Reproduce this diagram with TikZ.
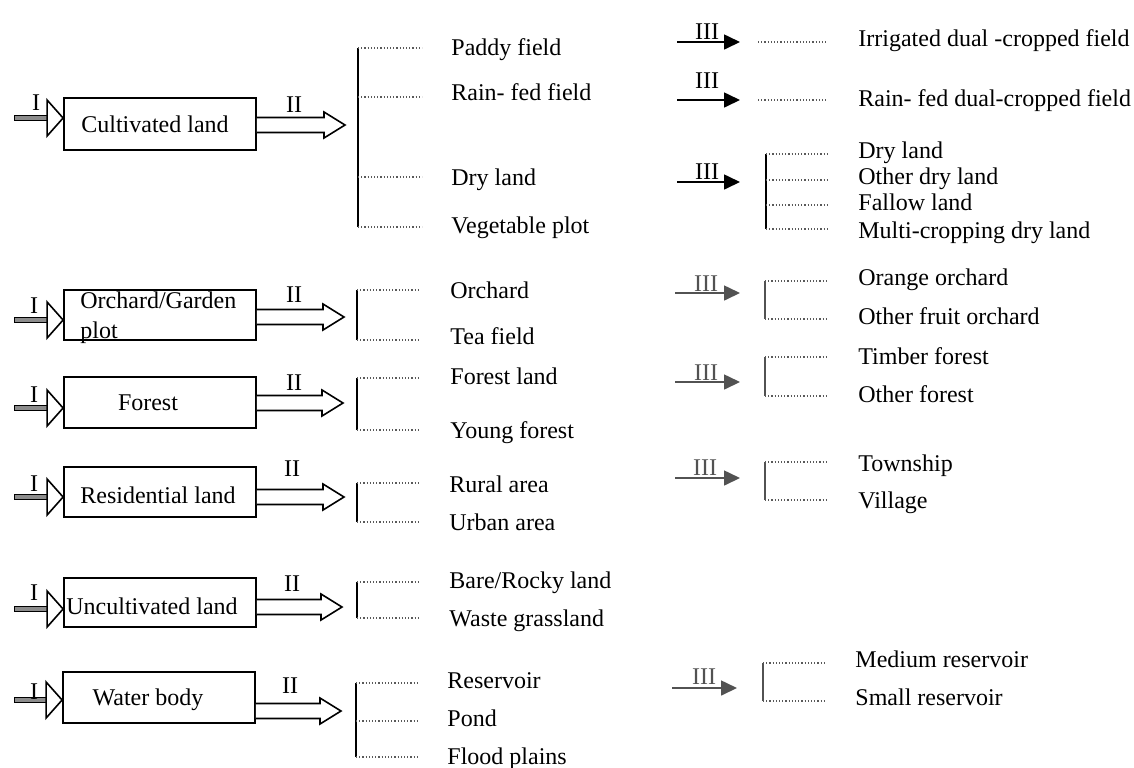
\documentclass[tikz,border=0pt]{standalone}
\usepackage{fontspec}
\setmainfont{Liberation Serif}
\usetikzlibrary{arrows.meta,calc}
\newcommand{\InArr}[2]{%
  \coordinate (#1-t) at (14,#2);
  \coordinate (#1-a) at (#1.west |- #1-t);
  \draw[shaftst] ($(#1-t)+(0,-2.5)$) rectangle ($(#1-a)+(-16,2.5)$);
  \draw[hollow] ($(#1-a)+(-16,-18)$) -- (#1-a) -- ($(#1-a)+(-16,18)$) -- cycle;
}
\newcommand{\OutArr}[3]{%
  \coordinate (#1-oy) at (0,#2);
  \coordinate (#1-o) at (#1.east |- #1-oy);
  \coordinate (#1-p) at (#3,#2);
  \draw[hollow] ($(#1-o)+(0,-7.5)$) -- ($(#1-p)+(-21,-7.5)$) -- ($(#1-p)+(-21,-13)$) -- (#1-p)
     -- ($(#1-p)+(-21,13)$) -- ($(#1-p)+(-21,7.5)$) -- ($(#1-o)+(0,7.5)$);
}
\begin{document}
\begin{tikzpicture}[x=0.5pt,y=-0.5pt,
  font=\fontsize{12}{14}\selectfont,
  box/.style={draw,line width=0.9pt,minimum width=96pt,inner sep=0pt},
  lbl/.style={anchor=base west,inner sep=0pt},
  ctr/.style={anchor=base,inner sep=0pt},
  hollow/.style={draw,line width=0.8pt,fill=white,line join=miter},
  shaftst/.style={draw,line width=0.45pt,fill=black!45},
  bar/.style={line width=0.75pt},
  tick/.style={densely dotted,line width=0.6pt,black!65},
  rarr/.style={line width=0.8pt,-{Triangle[length=8pt,width=7.5pt]}},
  grey/.style={black!68},
]
\useasboundingbox (0,0) rectangle (1134,767);

% ---------------- left column: boxes ----------------
\node[box,minimum height=26pt]   (cult)  at (160,124) {};
\node[box,minimum height=25pt]   (orch)  at (160,315) {};
\node[box,minimum height=25.5pt] (fore)  at (160,402.5) {};
\node[box,minimum height=25pt]   (resi)  at (160,492) {};
\node[box,minimum height=24.5pt] (uncu)  at (160,602.5) {};
\node[box,minimum height=25.5pt] (wate)  at (159,697.5) {};

\node[ctr] (cultT) at (155,132) {Cultivated land};
\node[lbl] (orchT1) at (80,308) {Orchard/Garden};
\node[lbl] (orchT2) at (80,338) {plot};
\node[ctr] (foreT) at (148,410) {Forest};
\node[ctr] (resiT) at (158,503) {Residential land};
\node[ctr] (uncuT) at (152,614) {Uncultivated land};
\node[ctr] (wateT) at (148,705) {Water body};

% input arrows (I)
\InArr{cult}{118}
\InArr{orch}{320}
\InArr{fore}{408}
\InArr{resi}{497}
\InArr{uncu}{609}
\InArr{wate}{700}
\node[ctr] (i1) at (36,110) {I};
\node[ctr] (i2) at (34,313) {I};
\node[ctr] (i3) at (34,402) {I};
\node[ctr] (i4) at (34,491) {I};
\node[ctr] (i5) at (34,600) {I};
\node[ctr] (i6) at (34,699) {I};

% output arrows (II)
\OutArr{cult}{125}{345}
\OutArr{orch}{317}{344}
\OutArr{fore}{403}{343}
\OutArr{resi}{497}{344}
\OutArr{uncu}{607}{342}
\OutArr{wate}{711}{341}
\node[ctr] (ii1) at (294,112) {II};
\node[ctr] (ii2) at (294,302) {II};
\node[ctr] (ii3) at (294,390) {II};
\node[ctr] (ii4) at (292,476) {II};
\node[ctr] (ii5) at (292,591) {II};
\node[ctr] (ii6) at (290,693) {II};

% brackets (left)
\draw[bar] (358,48) -- (358,227);
\foreach \y in {48,97,177,227} \draw[tick] (358,\y) -- (422,\y);
\draw[bar] (357,290) -- (357,340);
\foreach \y in {290,340} \draw[tick] (357,\y) -- (418,\y);
\draw[bar] (357,378) -- (357,430);
\foreach \y in {378,430} \draw[tick] (357,\y) -- (418,\y);
\draw[bar] (357,483) -- (357,522);
\foreach \y in {483,522} \draw[tick] (357,\y) -- (418,\y);
\draw[bar] (357,582) -- (357,618);
\foreach \y in {582,618} \draw[tick] (357,\y) -- (418,\y);
\draw[bar] (356,683) -- (356,757);
\foreach \y in {683,721,757} \draw[tick] (356,\y) -- (418,\y);

% left category texts
\node[lbl] (l1) at (451,55) {Paddy field};
\node[lbl] (l2) at (451,100) {Rain- fed field};
\node[lbl] (l3) at (451,185) {Dry land};
\node[lbl] (l4) at (451,233) {Vegetable plot};
\node[lbl] (l5) at (450,298) {Orchard};
\node[lbl] (l6) at (450,344) {Tea field};
\node[lbl] (l7) at (450,384) {Forest land};
\node[lbl] (l8) at (450,438) {Young forest};
\node[lbl] (l9) at (449,492) {Rural area};
\node[lbl] (l10) at (449,530) {Urban area};
\node[lbl] (l11) at (449,588) {Bare/Rocky land};
\node[lbl] (l12) at (449,626) {Waste grassland};
\node[lbl] (l13) at (447,688) {Reservoir};
\node[lbl] (l14) at (447,726) {Pond};
\node[lbl] (l15) at (447,764) {Flood plains};

% ---------------- right column ----------------
\coordinate (a1s) at (677,42);  \coordinate (a1e) at (740,42);
\draw[rarr] (a1s) -- (a1e);
\node[ctr] (iii1) at (707,39) {III};
\draw[tick] (758,42) -- (827,42);
\node[lbl] (r1) at (858,46) {Irrigated dual -cropped field};

\coordinate (a2s) at (677,100);  \coordinate (a2e) at (740,100);
\draw[rarr] (a2s) -- (a2e);
\node[ctr] (iii2) at (707,88) {III};
\draw[tick] (758,100) -- (827,100);
\node[lbl] (r2) at (858,106) {Rain- fed dual-cropped field};

\coordinate (a3s) at (677,182);  \coordinate (a3e) at (740,182);
\draw[rarr] (a3s) -- (a3e);
\node[ctr] (iii3) at (707,179) {III};
\draw[bar] (766,154) -- (766,229);
\foreach \y in {154,180,205,229} \draw[tick] (766,\y) -- (828,\y);
\node[lbl] (r3) at (858,158) {Dry land};
\node[lbl] (r4) at (858,184) {Other dry land};
\node[lbl] (r5) at (858,210) {Fallow land};
\node[lbl] (r6) at (858,238) {Multi-cropping dry land};

\begin{scope}[grey]
\coordinate (a4s) at (675,293);  \coordinate (a4e) at (740,293);
\draw[rarr] (a4s) -- (a4e);
\node[ctr] (iii4) at (706,291) {III};
\draw[bar] (765,281) -- (765,319);
\coordinate (a5s) at (675,382);  \coordinate (a5e) at (740,382);
\draw[rarr] (a5s) -- (a5e);
\node[ctr] (iii5) at (706,380) {III};
\draw[bar] (765,357) -- (765,396);
\coordinate (a6s) at (675,478);  \coordinate (a6e) at (740,478);
\draw[rarr] (a6s) -- (a6e);
\node[ctr] (iii6) at (705,475) {III};
\draw[bar] (765,462) -- (765,500);
\coordinate (a7s) at (672,688);  \coordinate (a7e) at (737,688);
\draw[rarr] (a7s) -- (a7e);
\node[ctr] (iii7) at (704,684) {III};
\draw[bar] (763,663) -- (763,701);
\end{scope}
\foreach \y in {281,319} \draw[tick] (765,\y) -- (828,\y);
\foreach \y in {357,396} \draw[tick] (765,\y) -- (828,\y);
\foreach \y in {462,500} \draw[tick] (765,\y) -- (828,\y);
\foreach \y in {663,701} \draw[tick] (763,\y) -- (825,\y);

\node[lbl] (r7) at (858,285) {Orange orchard};
\node[lbl] (r8) at (858,324) {Other fruit orchard};
\node[lbl] (r9) at (858,364) {Timber forest};
\node[lbl] (r10) at (858,402) {Other forest};
\node[lbl] (r11) at (858,471) {Township};
\node[lbl] (r12) at (858,508) {Village};
\node[lbl] (r13) at (855,667) {Medium reservoir};
\node[lbl] (r14) at (855,705) {Small reservoir};
\end{tikzpicture}
\end{document}
